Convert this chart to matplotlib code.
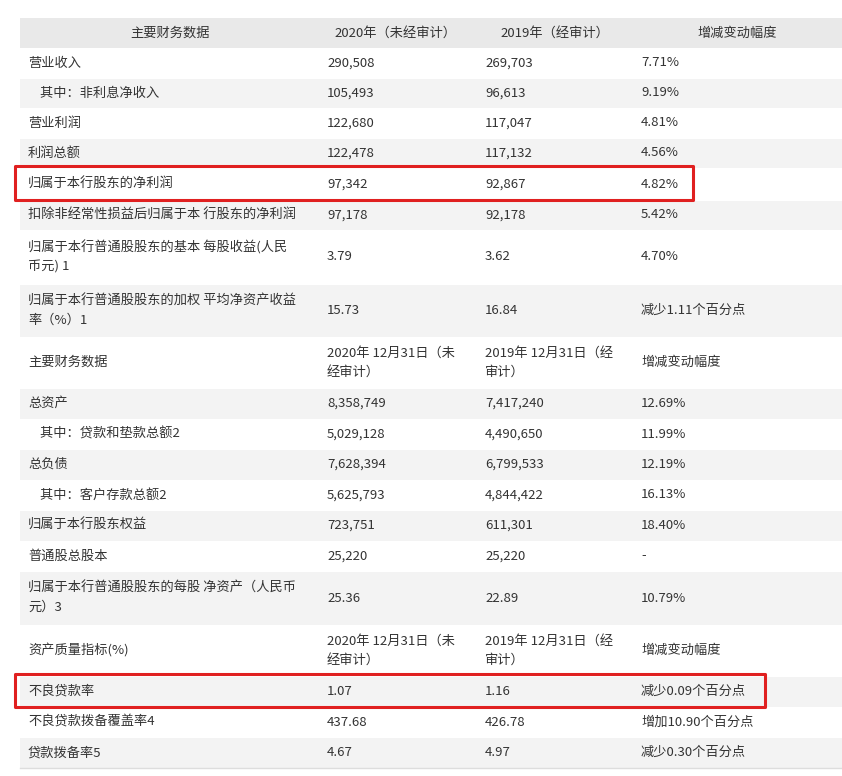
import matplotlib
matplotlib.use("Agg")
import matplotlib.pyplot as plt
from matplotlib.patches import Rectangle

plt.rcParams['font.family'] = ['Noto Sans CJK SC', 'DejaVu Sans']

headers = ["主要财务数据", "2020年（未经审计）", "2019年（经审计）", "增减变动幅度"]
col1 = ["营业收入", "    其中：非利息净收入", "营业利润", "利润总额", "归属于本行股东的净利润",
        "扣除非经常性损益后归属于本 行股东的净利润",
        "归属于本行普通股股东的基本 每股收益(人民\n币元) 1",
        "归属于本行普通股股东的加权 平均净资产收益\n率（%）1",
        "主要财务数据", "总资产", "    其中：贷款和垫款总额2", "总负债", "    其中：客户存款总额2",
        "归属于本行股东权益", "普通股总股本",
        "归属于本行普通股股东的每股 净资产（人民币\n元）3",
        "资产质量指标(%)", "不良贷款率", "不良贷款拨备覆盖率4", "贷款拨备率5"]
col2 = ["290,508", "105,493", "122,680", "122,478", "97,342", "97,178", "3.79", "15.73",
        "2020年 12月31日（未\n经审计）", "8,358,749", "5,029,128", "7,628,394", "5,625,793",
        "723,751", "25,220", "25.36", "2020年 12月31日（未\n经审计）", "1.07", "437.68", "4.67"]
col3 = ["269,703", "96,613", "117,047", "117,132", "92,867", "92,178", "3.62", "16.84",
        "2019年 12月31日（经\n审计）", "7,417,240", "4,490,650", "6,799,533", "4,844,422",
        "611,301", "25,220", "22.89", "2019年 12月31日（经\n审计）", "1.16", "426.78", "4.97"]
col4 = ["7.71%", "9.19%", "4.81%", "4.56%", "4.82%", "5.42%", "4.70%", "减少1.11个百分点",
        "增减变动幅度", "12.69%", "11.99%", "12.19%", "16.13%", "18.40%", "-", "10.79%",
        "增减变动幅度", "减少0.09个百分点", "增加10.90个百分点", "减少0.30个百分点"]
row_edges = [48, 78, 108, 138, 168, 200, 230, 284, 337, 388, 419, 449, 480, 510, 541, 571,
             625, 676, 707, 737, 768]
highlight_rows = [4, 17]
highlight_right = [693, 765]

fig = plt.figure(figsize=(8.42, 7.76), dpi=100)
ax = fig.add_axes([0, 0, 1, 1])
ax.set_xlim(0, 842); ax.set_ylim(776, 0); ax.axis('off')

X0, X1 = 20, 842
txt = '#333333'
ax.add_patch(Rectangle((X0, 18), X1 - X0, 30, color='#e9e9e9', lw=0))
hx = [170, 395, 555, 737]
for h, x in zip(headers, hx):
    ax.text(x, 33, h, ha='center', va='center', fontsize=9.5, color=txt)

cx = [28, 327, 485, 641]
for i in range(len(col1)):
    y0, y1 = row_edges[i], row_edges[i + 1]
    fc = '#ffffff' if i % 2 == 0 else '#f3f3f3'
    ax.add_patch(Rectangle((X0, y0 + 1), X1 - X0, y1 - y0 - 1, color=fc, lw=0))
    ym = (y0 + y1) / 2
    for x, col in zip(cx, [col1, col2, col3, col4]):
        ax.text(x, ym, col[i], ha='left', va='center', fontsize=9.5, color=txt, linespacing=1.6)
ax.plot([X0, X1], [768, 768], color='#dddddd', lw=1)

for r, xr in zip(highlight_rows, highlight_right):
    y0, y1 = row_edges[r], row_edges[r + 1]
    ax.add_patch(Rectangle((15, y0 - 2), xr - 15, y1 - y0 + 2, fill=False,
                           ec='#e02020', lw=2.2, joinstyle='round'))

fig.savefig('out.png', dpi=100)
